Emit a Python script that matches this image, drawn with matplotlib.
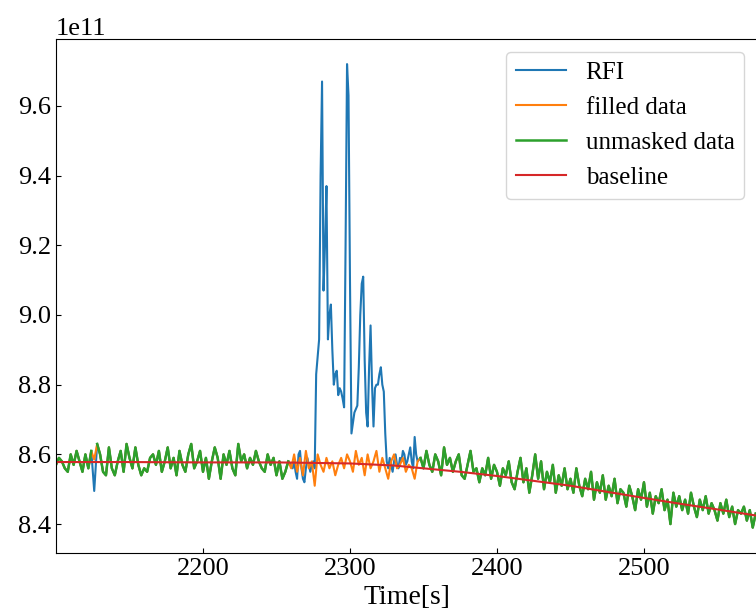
import numpy as np
import matplotlib
matplotlib.use("Agg")
import matplotlib.pyplot as plt

plt.rcParams["font.family"] = "Liberation Serif"
plt.rcParams["font.size"] = 18

# time grids [s]
t_left = np.arange(2100, 2260, 2)       # unmasked, before the RFI burst
t_mid = np.arange(2260, 2347, 1)        # raw data inside the masked window
t_mid_fill = np.arange(2260, 2347, 2)   # filled values inside the masked window
t_right = np.arange(2348, 2578, 2)      # unmasked, after the RFI burst

# raw values (units of 1e11)
left_raw = [
    8.57, 8.59, 8.58, 8.56, 8.55, 8.60, 8.57, 8.61, 8.58, 8.55,
    8.60, 8.56, 8.61, 8.495, 8.63, 8.60, 8.55, 8.54, 8.62, 8.56,
    8.54, 8.58, 8.61, 8.55, 8.63, 8.59, 8.56, 8.62, 8.57, 8.54,
    8.56, 8.55, 8.59, 8.60, 8.57, 8.61, 8.55, 8.58, 8.62, 8.56,
    8.59, 8.54, 8.61, 8.57, 8.55, 8.60, 8.63, 8.56, 8.58, 8.61,
    8.55, 8.59, 8.53, 8.58, 8.62, 8.59, 8.53, 8.60, 8.57, 8.61,
    8.56, 8.54, 8.63, 8.58, 8.60, 8.56, 8.59, 8.57, 8.61, 8.58,
    8.56, 8.55, 8.60, 8.57, 8.59, 8.54, 8.58, 8.53, 8.55, 8.58,
]
rfi_mid = [
    8.57, 8.56, 8.58, 8.55, 8.53, 8.60, 8.61, 8.56, 8.53, 8.52,
    8.56, 8.59, 8.57, 8.55, 8.57, 8.58, 8.56, 8.83, 8.88, 8.93,
    9.40, 9.67, 9.07, 9.20, 9.37, 8.93, 9.00, 9.03, 8.90, 8.80,
    8.83, 8.84, 8.77, 8.79, 8.78, 8.76, 8.735, 9.20, 9.72, 9.63,
    9.10, 8.66, 8.69, 8.72, 8.73, 8.74, 8.85, 9.00, 9.09, 9.11,
    8.87, 8.72, 8.68, 8.85, 8.97, 8.80, 8.68, 8.79, 8.80, 8.80,
    8.83, 8.85, 8.80, 8.78, 8.66, 8.58, 8.56, 8.59, 8.57, 8.55,
    8.58, 8.60, 8.57, 8.56, 8.59, 8.58, 8.61, 8.60, 8.57, 8.58,
    8.60, 8.62, 8.58, 8.56, 8.65, 8.60, 8.58,
]
right_raw = [
    8.59, 8.56, 8.61, 8.57, 8.55, 8.60, 8.58, 8.54, 8.62, 8.57,
    8.59, 8.55, 8.58, 8.60, 8.54, 8.53, 8.57, 8.61, 8.55, 8.56,
    8.52, 8.56, 8.54, 8.59, 8.53, 8.57, 8.55, 8.51, 8.56, 8.54,
    8.58, 8.52, 8.50, 8.55, 8.59, 8.52, 8.56, 8.49, 8.54, 8.60,
    8.53, 8.58, 8.50, 8.55, 8.52, 8.57, 8.49, 8.54, 8.51, 8.56,
    8.50, 8.53, 8.49, 8.56, 8.51, 8.48, 8.53, 8.50, 8.55, 8.47,
    8.52, 8.49, 8.54, 8.47, 8.51, 8.48, 8.53, 8.46, 8.50, 8.49,
    8.45, 8.51, 8.48, 8.44, 8.50, 8.47, 8.52, 8.45, 8.49, 8.43,
    8.48, 8.46, 8.50, 8.44, 8.47, 8.40, 8.49, 8.45, 8.48, 8.44,
    8.47, 8.43, 8.49, 8.45, 8.42, 8.47, 8.44, 8.48, 8.43, 8.46,
    8.44, 8.41, 8.46, 8.43, 8.47, 8.42, 8.45, 8.40, 8.44, 8.43,
    8.45, 8.41, 8.44, 8.39, 8.43,
]

# filled values for masked samples
fill_mid = [
    8.56, 8.60, 8.55, 8.59, 8.54, 8.61, 8.56, 8.58, 8.51, 8.60,
    8.57, 8.55, 8.59, 8.56, 8.58, 8.54, 8.57, 8.59, 8.56, 8.60,
    8.58, 8.55, 8.61, 8.57, 8.59, 8.54, 8.60, 8.56, 8.58, 8.61,
    8.55, 8.59, 8.56, 8.53, 8.58, 8.60, 8.56, 8.57, 8.59, 8.55,
    8.57, 8.56, 8.53, 8.58,
]
masked_left_t = [2126]
masked_left_fill = [8.585]

# fitted baseline
t_base = [2100, 2150, 2200, 2250, 2300, 2330, 2350, 2375, 2400, 2425,
          2450, 2480, 2500, 2525, 2550, 2577]
base = [8.578, 8.578, 8.577, 8.577, 8.574, 8.568, 8.560, 8.550, 8.538, 8.524,
        8.510, 8.489, 8.475, 8.458, 8.442, 8.424]

scale = 1e11

# assemble the series
left = np.array(left_raw)
idx = np.searchsorted(t_left, masked_left_t)
left_filled = left.copy()
left_filled[idx] = masked_left_fill
left_unmasked = left.copy()
left_unmasked[idx] = np.nan

t_rfi = np.concatenate([t_left, t_mid, t_right])
y_rfi = np.concatenate([left, rfi_mid, right_raw]) * scale
t_fill = np.concatenate([t_left, t_mid_fill, t_right])
y_fill = np.concatenate([left_filled, fill_mid, right_raw]) * scale
t_un = np.concatenate([t_left, [2259], t_right])
y_un = np.concatenate([left_unmasked, [np.nan], right_raw]) * scale

fig = plt.figure(figsize=(7.56, 6.16), dpi=100)
ax = fig.add_axes([56 / 756, 63 / 616, 701 / 756, 514 / 616])

ax.plot(t_rfi, y_rfi, color="C0", label="RFI")
ax.plot(t_fill, y_fill, color="C1", label="filled data")
ax.plot(t_un, y_un, color="C2", lw=1.8, label="unmasked data")
ax.plot(t_base, np.array(base) * scale, color="C3", label="baseline")

ax.set_xlim(2100, 2576.9)
ax.set_ylim(8.317e11, 9.792e11)
ax.set_xticks([2200, 2300, 2400, 2500])
ax.set_yticks(np.array([8.4, 8.6, 8.8, 9.0, 9.2, 9.4, 9.6]) * scale)
ax.tick_params(direction="in", labelsize=19)
ax.yaxis.get_offset_text().set_fontsize(19)
ax.set_xlabel("Time[s]", fontsize=20)
ax.legend(loc="upper right", fontsize=18)

fig.savefig("out.png", dpi=100)
